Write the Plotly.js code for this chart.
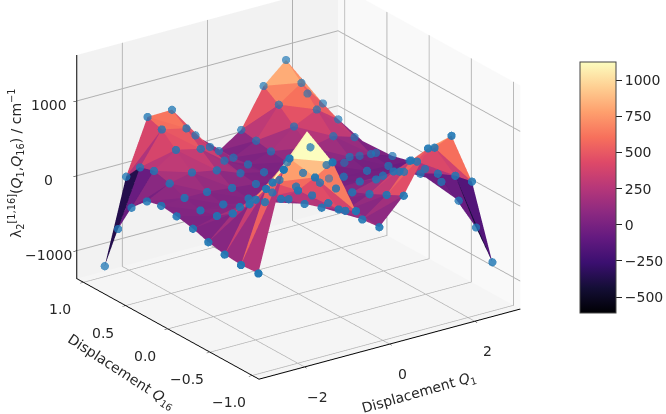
<!DOCTYPE html>
<html>
<head>
<meta charset="utf-8">
<script src="https://cdn.plot.ly/plotly-3.0.1.min.js"></script>
<style>html,body{margin:0;padding:0;background:#fff;overflow:hidden}#c{width:666px;height:414px}</style>
</head>
<body>
<div id="c"></div>
<script>
var q1 = [-2.75,-2.2,-1.65,-1.1,-0.55,0,0.55,1.1,1.65,2.2,2.75];
var q16 = [-0.91,-0.728,-0.546,-0.364,-0.182,0,0.182,0.364,0.546,0.728,0.91];
var z00 = [-163,1050,1451,981,280,-10,305,827,906,228,-908];
var z01 = [-162,712,1016,694,203,-11,220,580,661,210,-554];
var z02 = [-136,418,612,428,126,1,132,342,386,142,-300];
var z03 = [-85,198,293,221,73,1,57,141,158,46,-147];
var z04 = [-20,62,96,77,33,0,6,14,7,-25,-72];
var z05 = [33,29,25,21,17,13,-18,-22,-26,-44,-62];
var z06 = [61,85,83,56,27,-1,11,34,60,17,-93];
var z07 = [11,167,233,183,65,-2,51,172,241,147,-151];
var z08 = [-182,226,427,364,128,-2,94,353,505,292,-292];
var z09 = [-576,165,595,535,208,-16,136,550,774,413,-491];
var z10 = [-1188,-69,659,682,260,-31,180,708,993,451,-817];
var zRows = [z00,z01,z02,z03,z04,z05,z06,z07,z08,z09,z10];
var q1Ticks = [-2,0,2];
var q16Ticks = [-1,-0.5,0,0.5,1];
var zTicks = [-1000,0,1000];
var barTicks = [-500,-250,0,250,500,750,1000];
// sideways perspective drift of the reference's point rows, read along the four edges of the grid
var frontDrift = [0,2,2,4,4,4,5,6,6,3,0];
var backDrift = [0,-2,-4,-3,-3,-3,-4,-5,-6,-8,-10];
var leftDrift = [0,-2,-3,-4,-4,-5,-5,-4,-4,-2,0];
var rightDrift = [0,-1,-3,-5,-6,-6,-8,-9,-10,-10,-10];

var magma = [[0,'#000004'],[0.1,'#140e36'],[0.2,'#3b0f70'],[0.3,'#641a80'],[0.4,'#8c2981'],[0.5,'#b73779'],[0.6,'#de4968'],[0.7,'#f7705c'],[0.8,'#fe9f6d'],[0.9,'#fecf92'],[1,'#fcfdbf']];
var XR=[-3.07,3.07], YR=[-1.08,1.08], ZR=[-1373,1613];
var FONT='"DejaVu Sans", sans-serif';
var CZ=-0.1306;
var eye={x:-0.528*1.7,y:-0.757*1.7,z:0.385*1.7+CZ};
var centre={x:0,y:0,z:CZ};
var aspect={x:1.539,y:1.539,z:1.17};

var X=[],Y=[],Z=[],ZP=[],TI=[],TJ=[],TK=[],CV=[];
var n=q1.length;
function id(i,j){return j*n+i;}
// The reference has a slight perspective and this camera is orthographic, so the drawn position
// of each point takes the reference's local px-per-unit, floor offset and sideways drift.
for(var j=0;j<n;j++)for(var i=0;i<n;i++){
  var v=zRows[j][i], s=81-0.35*i-0.55*j, c=-3+1.0*i+0.6*j-0.11*i*j;
  var a=i/10,b=j/10;
  var d=(1-b)*frontDrift[i]+b*backDrift[i]+(1-a)*leftDrift[j]+a*rightDrift[j]+10*a*b;
  X.push(q1[i]+d/63);Y.push(q16[j]-0.235*d/63);Z.push(v);
  ZP.push(ZR[0]+(v-ZR[0])*s/75.5+c/75.5*1000);
}
function tri(a,b,c){TI.push(a);TJ.push(b);TK.push(c);CV.push((Z[a]+Z[b]+Z[c])/3);}
for(var j=0;j<n-1;j++)for(var i=0;i<n-1;i++){
  tri(id(i,j),id(i+1,j),id(i,j+1));
  tri(id(i+1,j),id(i+1,j+1),id(i,j+1));
}
// depth shading of the points, nearest opaque. Colour and alpha both take sqrt(a) so the
// overlay canvas composites to a true alpha of a over the surface below.
var ds=X.map(function(v,k){return (v-XR[0])/(XR[1]-XR[0])*0.572+(Y[k]-YR[0])/(YR[1]-YR[0])*0.82-(Z[k]-ZR[0])/(ZR[1]-ZR[0])*0.3;});
var dmin=Math.min.apply(null,ds),dmax=Math.max.apply(null,ds);
var ptColors=ds.map(function(d){var a=1-0.68*(d-dmin)/(dmax-dmin),r=Math.sqrt(a);
  return 'rgba('+Math.round(31*r)+','+Math.round(119*r)+','+Math.round(180*r)+','+r.toFixed(3)+')';});

var surface={type:'mesh3d',scene:'scene',x:X,y:Y,z:ZP,i:TI,j:TJ,k:TK,intensity:CV,intensitymode:'cell',
  colorscale:magma,cmin:-610,cmax:1126,flatshading:true,
  lighting:{ambient:1,diffuse:0,specular:0,fresnel:0,roughness:1},
  hoverinfo:'skip',
  colorbar:{x:580/666,xanchor:'left',xpad:0,y:(414-187.5)/414,yanchor:'middle',ypad:0,len:251/414,lenmode:'fraction',
    thickness:36,thicknessmode:'pixels',tickmode:'array',tickvals:barTicks,ticktext:barTicks.map(function(v){return String(v).replace('-','\u2212');}),
    ticks:'outside',ticklen:6,tickcolor:'#222',tickwidth:1,outlinecolor:'#444',outlinewidth:1,
    tickfont:{family:FONT,size:14,color:'#262626'}}};
var points={type:'scatter3d',scene:'scene2',mode:'markers',x:X,y:Y,z:ZP,marker:{size:4.8,color:ptColors,line:{width:0}},hoverinfo:'skip'};

function ann(x,y,z,t,xs,ys){return {x:x,y:y,z:z,text:t,showarrow:false,xanchor:'center',yanchor:'middle',xshift:xs,yshift:ys,font:{family:FONT,size:14,color:'#262626'}};}
function lab(v){return String(v).replace('-','\u2212');}
var sceneAnn=[], EPS=0.001;
q1Ticks.forEach(function(v){sceneAnn.push(ann(v,YR[0]+EPS,ZR[0]+1,lab(v),13,-30));});
q16Ticks.forEach(function(v){sceneAnn.push(ann(XR[0]+EPS,v,ZR[0]+1,lab(v.toFixed(1)),-23,-27));});
zTicks.forEach(function(v){sceneAnn.push(ann(XR[0]+EPS,YR[1]-EPS,v,lab(v),-28,-4));});

function axis(r,tv,bg){return {range:r,autorange:false,tickmode:'array',tickvals:tv,showticklabels:false,title:{text:''},
  showgrid:true,gridcolor:'#b0b0b0',gridwidth:2,zeroline:false,showline:true,linecolor:'#000',linewidth:2,ticks:'outside',ticklen:4,tickcolor:'#000',
  showbackground:true,backgroundcolor:bg,showspikes:false};}
function blank(r){return {range:r,autorange:false,visible:false,showgrid:false,showline:false,zeroline:false,showticklabels:false,showbackground:false,title:{text:''},showspikes:false,ticks:''};}
var dom={x:[0,0.896],y:[0,1]};
var titleFont={family:FONT,size:14,color:'#262626'};
var cam={eye:eye,up:{x:0,y:0,z:1},center:centre,projection:{type:'orthographic'}};
var layout={width:666,height:414,margin:{l:0,r:0,t:0,b:0},paper_bgcolor:'rgba(0,0,0,0)',showlegend:false,
  scene:{domain:dom,aspectmode:'manual',aspectratio:aspect,camera:cam,
    bgcolor:'rgba(0,0,0,0)',xaxis:axis(XR,q1Ticks,'#f9f9f9'),yaxis:axis(YR,q16Ticks,'#f2f2f2'),zaxis:axis(ZR,zTicks,'#f5f5f5'),annotations:sceneAnn},
  scene2:{domain:dom,aspectmode:'manual',aspectratio:aspect,camera:cam,
    bgcolor:'rgba(0,0,0,0)',xaxis:blank(XR),yaxis:blank(YR),zaxis:blank(ZR)},
  annotations:[
   {xref:'paper',yref:'paper',x:419/666,y:1-393/414,text:'Displacement <i>Q</i><sub>1</sub>',textangle:-16,showarrow:false,xanchor:'center',yanchor:'middle',font:titleFont},
   {xref:'paper',yref:'paper',x:121/666,y:1-372/414,text:'Displacement <i>Q</i><sub>16</sub>',textangle:33,showarrow:false,xanchor:'center',yanchor:'middle',font:titleFont},
   {xref:'paper',yref:'paper',x:16/666,y:1-163/414,text:'\u03bb<sub>2</sub><sup>[1,16]</sup>(<i>Q</i><sub>1</sub>,<i>Q</i><sub>16</sub>) / cm<sup>\u22121</sup>',textangle:-90,showarrow:false,xanchor:'center',yanchor:'middle',font:titleFont}
  ]};
Plotly.newPlot('c',[surface,points],layout,{displayModeBar:false});
</script>
</body>
</html>
